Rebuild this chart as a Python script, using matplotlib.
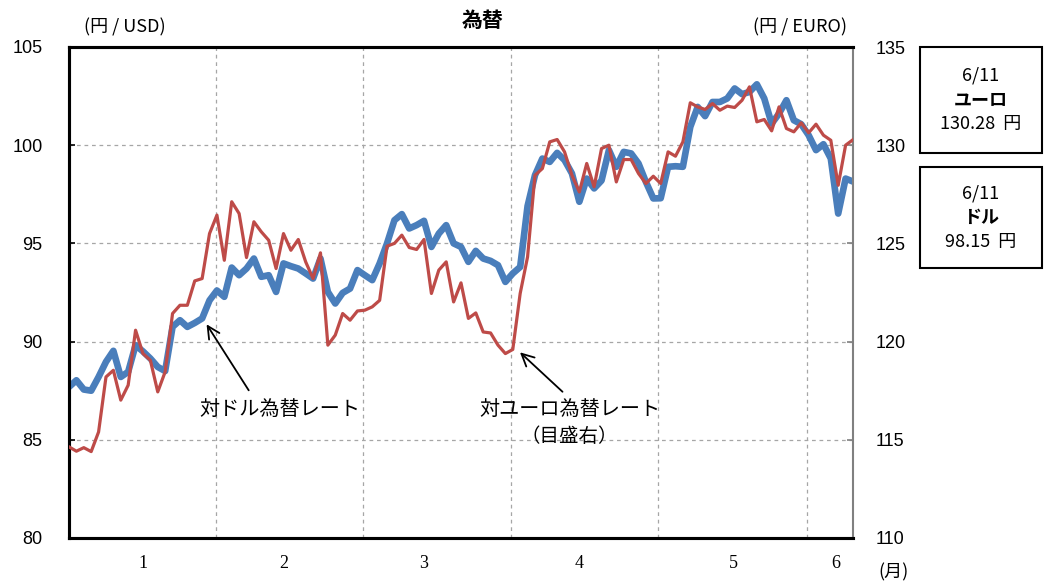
import numpy as np
import matplotlib.pyplot as plt
from matplotlib.patches import Rectangle

# daily rates, Jan - Jun 11 (yen per USD / yen per EUR)
usd = [87.69, 88.03, 87.56, 87.50, 88.20, 88.97, 89.53, 88.20, 88.46, 89.82,
       89.50, 89.14, 88.71, 88.50, 90.75, 91.09, 90.75, 90.95, 91.18, 92.10,
       92.60, 92.28, 93.77, 93.38, 93.72, 94.23, 93.30, 93.38, 92.53, 93.98,
       93.84, 93.72, 93.47, 93.21, 94.23, 92.53, 91.94, 92.48, 92.70, 93.64,
       93.38, 93.13, 93.98, 95.00, 96.18, 96.49, 95.76, 95.93, 96.15, 94.82,
       95.50, 95.93, 95.00, 94.82, 94.06, 94.62, 94.23, 94.11, 93.89, 93.04,
       93.47, 93.80, 96.90, 98.47, 99.32, 99.15, 99.61, 99.24, 98.56, 97.12,
       98.30, 97.80, 98.20, 99.75, 98.90, 99.66, 99.58, 99.07, 98.13, 97.29,
       97.30, 98.90, 98.93, 98.90, 100.93, 101.95, 101.48, 102.20, 102.20, 102.38,
       102.89, 102.60, 102.71, 103.10, 102.38, 101.10, 101.61, 102.29, 101.27, 101.07,
       100.51, 99.75, 100.05, 99.32, 96.52, 98.30, 98.15]

eur = [114.64, 114.42, 114.60, 114.40, 115.40, 118.20, 118.54, 117.02, 117.78, 120.58,
       119.39, 119.05, 117.44, 118.46, 121.43, 121.85, 121.85, 123.09, 123.21, 125.50,
       126.44, 124.14, 127.12, 126.52, 124.28, 126.10, 125.59, 125.16, 123.72, 125.50,
       124.65, 125.20, 124.06, 123.21, 124.52, 119.82, 120.33, 121.43, 121.09, 121.56,
       121.60, 121.77, 122.10, 124.86, 125.00, 125.42, 124.79, 124.69, 125.20, 122.45,
       123.64, 124.06, 122.02, 122.99, 121.18, 121.46, 120.49, 120.44, 119.82, 119.39,
       119.60, 122.45, 124.31, 128.47, 128.81, 130.17, 130.29, 129.66, 128.47, 127.62,
       129.07, 127.88, 129.83, 130.00, 128.13, 129.27, 129.27, 128.56, 128.05, 128.42,
       128.05, 129.66, 129.44, 130.17, 132.16, 131.95, 131.82, 132.12, 131.78, 131.99,
       131.92, 132.29, 132.97, 131.19, 131.31, 130.73, 131.95, 130.85, 130.68, 131.14,
       130.63, 131.07, 130.51, 130.25, 127.96, 130.00, 130.28]

months = ['1', '2', '3', '4', '5', '6']
last_date = '6/11'

plt.rcParams['font.family'] = ['Liberation Sans', 'Noto Sans CJK JP', 'DejaVu Sans']
jp = ['Noto Sans CJK JP', 'DejaVu Sans']

W, H = 1045, 588
fig = plt.figure(figsize=(W / 100, H / 100), dpi=100)
ax = fig.add_axes([69 / W, 1 - 538 / H, (853 - 69) / W, (538 - 47) / H])
ax2 = ax.twinx()

x = np.arange(len(usd))
ax.plot(x, usd, color='#4A7EBB', lw=4.8, solid_joinstyle='round', zorder=3)
ax2.plot(x, eur, color='#BE4B48', lw=2.3, solid_joinstyle='round', zorder=4)

ax.set_xlim(0, len(usd) - 1)
ax.set_ylim(80, 105)
ax2.set_ylim(110, 135)
ax.set_yticks(np.arange(80, 106, 5))
ax2.set_yticks(np.arange(110, 136, 5))

# month boundaries and label positions (in day index)
edges = [19.85, 39.8, 59.75, 79.7, 99.8]
label_pos = [10, 29.1, 48, 69, 89.8, 103.7]
grid_kw = dict(color='#A6A6A6', lw=0.9, ls=(0, (3, 3)), zorder=1)
for e in edges:
    ax.axvline(e, **grid_kw)
for v in [85, 90, 95, 100]:
    ax.axhline(v, **grid_kw)

ax.set_xticks(label_pos)
ax.set_xticklabels(months, family=['Liberation Serif', 'DejaVu Serif'], fontsize=13)
ax.tick_params(axis='x', length=0, pad=12)
ax.tick_params(axis='y', direction='in', length=4, width=1.2, labelsize=13, pad=19)
ax2.tick_params(axis='y', direction='in', length=4, width=1.2, color='#808080', labelsize=13, pad=16)

for s in ['left', 'top', 'bottom']:
    ax.spines[s].set_linewidth(2.2)
    ax2.spines[s].set_linewidth(2.2)
ax2.spines['right'].set_color('#808080')
ax2.spines['right'].set_linewidth(1.5)
ax.spines['right'].set_visible(False)

# annotations
arrow_kw = dict(arrowstyle='->', color='black', lw=1.3, mutation_scale=22)
ax.annotate('', xy=(18.4, 91.0), xytext=(24.5, 87.4), arrowprops=arrow_kw)
ax.text(28.5, 86.55, '対ドル為替レート', ha='center', va='center', fontsize=14.5, family=jp)
ax.annotate('', xy=(60.7, 89.55), xytext=(67.0, 87.35), arrowprops=arrow_kw)
ax.text(67.7, 86.55, '対ユーロ為替レート', ha='center', va='center', fontsize=14.5, family=jp)
ax.text(67.7, 85.15, '（目盛右）', ha='center', va='center', fontsize=14, family=jp)

# headers
fig.text(483 / W, 1 - 20 / H, '為替', ha='center', va='center', fontsize=15, weight='bold', family=jp)
fig.text(125 / W, 1 - 27 / H, '(円 / USD)', ha='center', va='center', fontsize=13, family=jp)
fig.text(800 / W, 1 - 27 / H, '(円 / EURO)', ha='center', va='center', fontsize=13, family=jp)
fig.text(893 / W, 1 - 572 / H, '(月)', ha='center', va='center', fontsize=13, family=jp)

# boxes with latest values
boxes = [(47, 153, 'ユーロ', eur[-1]), (167, 268, 'ドル', usd[-1])]
for top, bot, name, val in boxes:
    fig.add_artist(Rectangle((920 / W, 1 - bot / H), (1042 - 920) / W, (bot - top) / H,
                             transform=fig.transFigure, fill=False, ec='black', lw=1.5))
    cy = (top + bot) / 2
    fig.text(981 / W, 1 - (cy - 24) / H, last_date, ha='center', va='center', fontsize=13, family=jp)
    fig.text(981 / W, 1 - cy / H, name, ha='center', va='center', fontsize=13, weight='bold', family=jp)
    fig.text(981 / W, 1 - (cy + 24) / H, f'{val:.2f}  円', ha='center', va='center', fontsize=13, family=jp)

fig.savefig('out.png', dpi=100)
